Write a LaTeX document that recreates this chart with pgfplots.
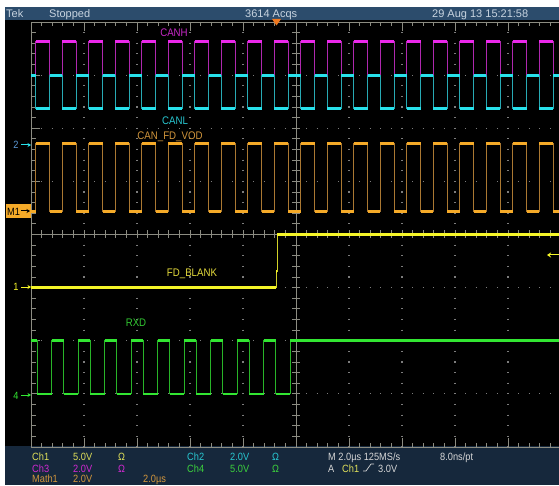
\documentclass[border=0pt]{standalone}
\usepackage{pgfplots}
\pgfplotsset{compat=1.18}
\usepackage{pgfplotstable}
\usetikzlibrary{arrows.meta}
\usepackage{fontspec}
\setmainfont{Liberation Sans}[FakeStretch=0.88]
\newfontfamily\hdrfont{Liberation Sans}

\definecolor{hdr}{RGB}{44,76,108}
\definecolor{hdrtxt}{RGB}{200,212,224}
\definecolor{btm}{RGB}{22,40,60}
\definecolor{grat}{RGB}{140,140,130}
\definecolor{dotc}{RGB}{125,125,125}
\definecolor{magT}{RGB}{235,40,235}
\definecolor{magE}{RGB}{175,40,175}
\definecolor{cyaT}{RGB}{40,225,235}
\definecolor{cyaE}{RGB}{40,170,180}
\definecolor{oraT}{RGB}{245,170,40}
\definecolor{oraE}{RGB}{170,120,50}
\definecolor{yelT}{RGB}{245,245,40}
\definecolor{yelE}{RGB}{210,210,40}
\definecolor{grnT}{RGB}{50,230,50}
\definecolor{grnE}{RGB}{40,180,40}
\definecolor{lblH}{RGB}{200,40,200}
\definecolor{lblL}{RGB}{40,200,210}
\definecolor{lblV}{RGB}{210,150,60}
\definecolor{lblB}{RGB}{230,220,60}
\definecolor{lblR}{RGB}{50,200,50}
\definecolor{cA}{RGB}{225,225,90}
\definecolor{cB}{RGB}{40,200,210}
\definecolor{cC}{RGB}{210,40,210}
\definecolor{cD}{RGB}{60,210,60}
\definecolor{cM}{RGB}{210,150,60}
\definecolor{wht}{RGB}{215,215,215}
\definecolor{ch2mk}{RGB}{90,150,210}
\definecolor{trig}{RGB}{240,120,30}

% x in divisions (2 us/div), y in divisions
\pgfplotstableread{
x y
0 7.0
0.09 7.64
0.35 7.0
0.59 7.64
0.85 7.0
1.09 7.64
1.35 7.0
1.59 7.64
1.85 7.0
2.09 7.64
2.35 7.0
2.59 7.64
2.85 7.0
3.09 7.64
3.35 7.0
3.59 7.64
3.85 7.0
4.09 7.64
4.35 7.0
4.59 7.64
4.85 7.0
5.09 7.64
5.35 7.0
5.59 7.64
5.85 7.0
6.09 7.64
6.35 7.0
6.59 7.64
6.85 7.0
7.09 7.64
7.35 7.0
7.59 7.64
7.85 7.0
8.09 7.64
8.35 7.0
8.59 7.64
8.85 7.0
9.09 7.64
9.35 7.0
9.59 7.64
9.85 7.0
9.96 7.0
}\canh

\pgfplotstableread{
x y
0 7.0
0.09 6.38
0.35 7.0
0.59 6.38
0.85 7.0
1.09 6.38
1.35 7.0
1.59 6.38
1.85 7.0
2.09 6.38
2.35 7.0
2.59 6.38
2.85 7.0
3.09 6.38
3.35 7.0
3.59 6.38
3.85 7.0
4.09 6.38
4.35 7.0
4.59 6.38
4.85 7.0
5.09 6.38
5.35 7.0
5.59 6.38
5.85 7.0
6.09 6.38
6.35 7.0
6.59 6.38
6.85 7.0
7.09 6.38
7.35 7.0
7.59 6.38
7.85 7.0
8.09 6.38
8.35 7.0
8.59 6.38
8.85 7.0
9.09 6.38
9.35 7.0
9.59 6.38
9.85 7.0
9.96 7.0
}\canl

\pgfplotstableread{
x y
0 4.44
0.09 5.71
0.35 4.44
0.59 5.71
0.85 4.44
1.09 5.71
1.35 4.44
1.59 5.71
1.85 4.44
2.09 5.71
2.35 4.44
2.59 5.71
2.85 4.44
3.09 5.71
3.35 4.44
3.59 5.71
3.85 4.44
4.09 5.71
4.35 4.44
4.59 5.71
4.85 4.44
5.09 5.71
5.35 4.44
5.59 5.71
5.85 4.44
6.09 5.71
6.35 4.44
6.59 5.71
6.85 4.44
7.09 5.71
7.35 4.44
7.59 5.71
7.85 4.44
8.09 5.71
8.35 4.44
8.59 5.71
8.85 4.44
9.09 5.71
9.35 4.44
9.59 5.71
9.85 4.44
9.96 4.44
}\vod

\pgfplotstableread{
x y
0 3.0
4.623 3.3
4.647 4.0
9.96 4.0
}\blank

\pgfplotstableread{
x y
0 2.0
0.12 1.0
0.39 2.0
0.62 1.0
0.89 2.0
1.12 1.0
1.39 2.0
1.62 1.0
1.89 2.0
2.12 1.0
2.39 2.0
2.62 1.0
2.89 2.0
3.12 1.0
3.39 2.0
3.62 1.0
3.89 2.0
4.12 1.0
4.39 2.0
4.62 1.0
4.89 2.0
9.96 2.0
}\rxd

\begin{document}
\begin{tikzpicture}
\useasboundingbox (0,0) rectangle (559pt,485pt);
\clip (0,0) rectangle (559pt,485pt);
\fill[white] (0,0) rectangle (559pt,485pt);
\begin{scope}[x=1pt,y=-1pt,yshift=485pt]
  % panels
  \fill[hdr] (5,7) rectangle (559,20);
  \fill[black] (5,20) rectangle (559,446);
  \fill[btm] (5,446) rectangle (559,485);
  % dotted grid
  \foreach \k in {1,2,3,4,6,7,8,9} {
    \draw[dotc, line width=1.2pt, dash pattern=on 1.2pt off 9.425pt, dash phase=0.6pt]
      ({31+53*\k},22) -- ({31+53*\k},447);
  }
  \foreach \k in {1,2,3,5,6,7} {
    \draw[dotc, line width=1.2pt, dash pattern=on 1.2pt off 9.4pt, dash phase=0.6pt]
      (31,{22+53.125*\k}) -- (559,{22+53.125*\k});
  }
  % frame and centre lines
  \draw[grat, line width=0.9pt] (559,22) -- (31,22) -- (31,447) -- (559,447);
  \draw[grat, line width=0.9pt] (296,22) -- (296,447);
  \draw[grat, line width=0.9pt] (31,234.5) -- (559,234.5);
  % ticks along x
  \foreach \i in {1,...,49} {
    \pgfmathsetmacro\xx{31+10.6*\i}
    \pgfmathtruncatemacro\m{mod(\i,5)}
    \ifnum\m=0 \def\L{9}\else\def\L{4.5}\fi
    \draw[grat, line width=0.9pt] (\xx,22) -- (\xx,22+\L);
    \draw[grat, line width=0.9pt] (\xx,447) -- (\xx,447-\L);
    \draw[grat, line width=0.9pt] (\xx,230.5) -- (\xx,238.5);
  }
  % ticks along y
  \foreach \j in {1,...,39} {
    \pgfmathsetmacro\yy{22+10.625*\j}
    \pgfmathtruncatemacro\m{mod(\j,5)}
    \ifnum\m=0 \def\L{9}\else\def\L{4.5}\fi
    \draw[grat, line width=0.9pt] (31,\yy) -- (31+\L,\yy);
    \draw[grat, line width=0.9pt] (292,\yy) -- (300,\yy);
  }
  % header text
  \begin{scope}[every node/.style={inner sep=0pt, anchor=base west, text=hdrtxt, font=\hdrfont\fontsize{11}{13}\selectfont}]
    \node at (6,17.5) {Tek};
    \node at (49,17.5) {Stopped};
    \node at (245,17.5) {3614 Acqs};
    \node at (432,17.5) {29 Aug 13 15:21:58};
  \end{scope}
  % bottom status text
  \begin{scope}[every node/.style={inner sep=0pt, anchor=base west, font=\fontsize{10.5}{12}\selectfont}]
    \node[text=cA] at (32,460.5) {Ch1};
    \node[text=cA] at (73,460.5) {5.0V};
    \node[text=cA] at (118,460.5) {Ω};
    \node[text=cB] at (187,460.5) {Ch2};
    \node[text=cB] at (230,460.5) {2.0V};
    \node[text=cB] at (272,460.5) {Ω};
    \node[text=wht] at (328,460.5) {M 2.0µs 125MS/s};
    \node[text=wht] at (440,460.5) {8.0ns/pt};
    \node[text=cC] at (32,472) {Ch3};
    \node[text=cC] at (73,472) {2.0V};
    \node[text=cC] at (118,472) {Ω};
    \node[text=cD] at (187,472) {Ch4};
    \node[text=cD] at (230,472) {5.0V};
    \node[text=cD] at (272,472) {Ω};
    \node[text=wht] at (328,472) {A};
    \node[text=cA] at (342,472) {Ch1};
    \node[text=wht] at (378,472) {3.0V};
    \node[text=cM] at (32,482.3) {Math1};
    \node[text=cM] at (73,482.3) {2.0V};
    \node[text=cM] at (143,482.3) {2.0µs};
  \end{scope}
  \draw[wht, line width=0.7pt] (363,471) -- (366,471) -- (371,464) -- (374,464);
  % trace labels
  \begin{scope}[every node/.style={inner sep=0pt, anchor=base, font=\fontsize{11}{13}\selectfont}]
    \node[text=lblH] at (174,36.5) {CANH};
    \node[text=lblL] at (175,125) {CANL};
    \node[text=lblV] at (170,139.5) {CAN\_FD\_VOD};
    \node[text=lblB] at (192,276.5) {FD\_BLANK};
    \node[text=lblR] at (136,326.5) {RXD};
  \end{scope}
  % channel markers
  \begin{scope}[every node/.style={inner sep=0pt, anchor=base, font=\fontsize{10.5}{12}\selectfont}]
    \node[text=ch2mk] at (16,149) {2};
    \draw[cyaT, line width=1pt, -{Stealth[length=3.5pt,width=4pt]}] (21,145) -- (31,145);
    \fill[oraT] (6,204) rectangle (31,218);
    \node[text=black, anchor=base west] at (7,215.5) {M1};
    \draw[black, line width=1pt, -{Stealth[length=3.5pt,width=4pt]}] (21,211) -- (30,211);
    \node[text=yelT] at (16,291) {1};
    \draw[yelT, line width=1pt, -{Stealth[length=3.5pt,width=4pt]}] (21,287) -- (31,287);
    \node[text=grnT] at (16,399) {4};
    \draw[grnT, line width=1pt, -{Stealth[length=3.5pt,width=4pt]}] (21,395) -- (31,395);
  \end{scope}
  % trigger level and position
  \draw[yelT, line width=1pt, -{Stealth[length=4pt,width=5pt]}] (560,255) -- (547,255);
  \fill[trig] (272,19) -- (281,19) -- (276.5,25.5) -- cycle;
\end{scope}

\begin{axis}[
  at={(0,0)}, anchor=south west,
  width=559pt, height=485pt, scale only axis,
  xmin=-0.5849, xmax=9.9623, ymin=-0.7153, ymax=8.4141,
  hide axis, clip=false]
  \addplot[const plot mark left, no markers, oraE, line width=0.9pt] table {\vod};
  \addplot[jump mark left, no markers, oraT, line width=3.2pt] table {\vod};
  \addplot[const plot mark left, no markers, grnE, line width=0.9pt] table {\rxd};
  \addplot[jump mark left, no markers, grnT, line width=2.6pt] table {\rxd};
  \addplot[const plot mark left, no markers, yelE, line width=0.9pt] table {\blank};
  \addplot[jump mark left, no markers, yelT, line width=2.6pt] table {\blank};
  \addplot[const plot mark left, no markers, magE, line width=0.9pt] table {\canh};
  \addplot[jump mark left, no markers, magT, line width=3pt] table {\canh};
  \addplot[const plot mark left, no markers, cyaE, line width=0.9pt] table {\canl};
  \addplot[jump mark left, no markers, cyaT, line width=3pt] table {\canl};
\end{axis}
\end{tikzpicture}
\end{document}
